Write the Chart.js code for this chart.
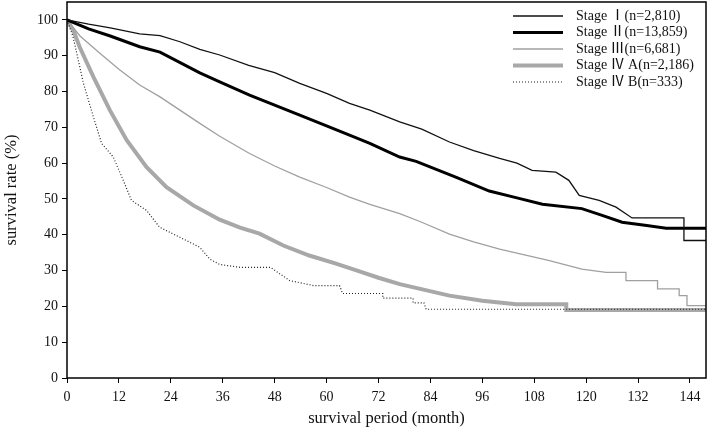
<!DOCTYPE html>
<html>
<head>
<meta charset="utf-8">
<script src="https://cdn.jsdelivr.net/npm/chart.js@4"></script>
<style>
  html, body { margin: 0; padding: 0; background: #fff; }
  #wrap { width: 709px; height: 431px; }
</style>
</head>
<body>
<div id="wrap"><canvas id="survivalChart" width="709" height="431"></canvas></div>
<script>
// survival curves by stage
const stageLabels = ['Stage Ⅰ(n=2,810)', 'Stage Ⅱ(n=13,859)', 'Stage Ⅲ(n=6,681)', 'Stage Ⅳ A(n=2,186)', 'Stage Ⅳ B(n=333)'];
const xTicks = [0, 12, 24, 36, 48, 60, 72, 84, 96, 108, 120, 132, 144];
const yTicks = [0, 10, 20, 30, 40, 50, 60, 70, 80, 90, 100];

const stage1Month = [0, 5, 10, 16.8, 21.5, 26.1, 30.7, 35.3, 42, 48, 53.8, 60, 65.3, 70, 76.9, 82, 88.4, 94, 100, 104, 107.5, 113, 116, 118.4, 123, 126.9, 130.6, 142.6, 142.6, 147.7];
const stage1Rate  = [100, 98.8, 97.8, 96.1, 95.6, 93.9, 91.8, 90.2, 87.3, 85.3, 82.3, 79.5, 76.7, 74.8, 71.5, 69.5, 65.9, 63.5, 61.3, 60.0, 58.0, 57.5, 55.2, 51.0, 49.6, 47.7, 44.7, 44.7, 38.4, 38.4];

const stage2Month = [0, 5, 10, 16.8, 21.5, 30.7, 35.3, 42.2, 48, 53.8, 60, 65.3, 70, 76.9, 80.7, 90, 97.6, 104, 109.9, 119, 123.7, 128.3, 134, 138.5, 147.7];
const stage2Rate  = [100, 97.5, 95.5, 92.5, 91.0, 85.2, 82.7, 79.0, 76.2, 73.4, 70.4, 67.8, 65.5, 61.7, 60.5, 56.0, 52.2, 50.3, 48.5, 47.3, 45.4, 43.5, 42.6, 41.8, 41.8];

const stage3Month = [0, 3, 7.6, 12, 16.8, 21.5, 26.1, 30.7, 35.3, 42.2, 48, 53.8, 60, 65.3, 70, 76.9, 82, 88.4, 94, 100, 106, 111.5, 119, 124.6, 129.2, 129.2, 136.5, 136.5, 141.5, 141.5, 143.3, 143.3, 147.7];
const stage3Rate  = [100, 95.5, 90.7, 86.2, 81.8, 78.5, 74.8, 71.1, 67.5, 62.7, 59.2, 56.1, 53.2, 50.5, 48.5, 45.9, 43.5, 40.2, 38.0, 36.0, 34.3, 32.8, 30.4, 29.5, 29.5, 27.2, 27.2, 24.9, 24.9, 23.0, 23.0, 20.2, 20.2];

const stage4aMonth = [0, 1.5, 2.9, 6.1, 9.9, 13.8, 18.4, 23, 29.2, 35.3, 40, 44.5, 50, 56, 62, 67.6, 72, 76.9, 88.4, 96, 103.8, 115.4, 115.4, 147.7];
const stage4aRate  = [100, 97, 92.5, 84.1, 74.8, 66.4, 58.9, 53.3, 48.2, 44.2, 42.0, 40.3, 37.0, 34.2, 32.0, 29.8, 28.0, 26.2, 23.0, 21.6, 20.6, 20.6, 19.0, 19.0];

const stage4bMonth = [0, 1.4, 3.8, 6.1, 8.0, 10.7, 13, 14.9, 18.4, 21.4, 26.1, 30.7, 33, 35.3, 40, 47, 51.5, 57, 63, 63.7, 73, 73, 80, 80, 82.5, 83, 147.7];
const stage4bRate  = [100, 95.3, 82.3, 72.9, 65.5, 61.7, 55.2, 49.6, 46.8, 42.1, 39.3, 36.5, 33.2, 31.7, 30.9, 30.9, 27.2, 25.8, 25.8, 23.6, 23.6, 22.3, 22.3, 21.0, 21.0, 19.2, 19.2];

const toPoints = (xs, ys) => xs.map((x, i) => ({ x: x, y: ys[i] }));

const serif = '"Liberation Serif", "Noto Sans CJK JP", serif';

const styles = [
    { color: '#111', width: 1.3, dash: [] },
    { color: '#000', width: 3, dash: [] },
    { color: '#a0a0a0', width: 1.3, dash: [] },
    { color: '#a8a8a8', width: 4, dash: [] },
    { color: '#222', width: 1.2, dash: [1, 2] }
];

const series = [
    toPoints(stage1Month, stage1Rate),
    toPoints(stage2Month, stage2Rate),
    toPoints(stage3Month, stage3Rate),
    toPoints(stage4aMonth, stage4aRate),
    toPoints(stage4bMonth, stage4bRate)
];

// frame around plot + legend inside the top right corner
const frameAndLegend = {
    id: 'frameAndLegend',
    afterDraw(chart) {
        const { ctx, chartArea } = chart;
        ctx.save();
        ctx.strokeStyle = '#000';
        ctx.lineWidth = 1.5;
        ctx.strokeRect(chartArea.left, chartArea.top, chartArea.right - chartArea.left, chartArea.bottom - chartArea.top);

        ctx.font = '14px ' + serif;
        ctx.textBaseline = 'middle';
        ctx.fillStyle = '#111';
        stageLabels.forEach((label, i) => {
            const y = 16 + i * 16.5;
            const s = styles[i];
            ctx.beginPath();
            ctx.strokeStyle = s.color;
            ctx.lineWidth = s.width;
            ctx.setLineDash(s.dash);
            ctx.moveTo(513, y);
            ctx.lineTo(563, y);
            ctx.stroke();
            ctx.setLineDash([]);
            ctx.fillText(label, 576, y);
        });
        ctx.restore();
    }
};

const ctx = document.getElementById('survivalChart').getContext('2d');
new Chart(ctx, {
    type: 'line',
    data: {
        datasets: series.map((pts, i) => ({
            label: stageLabels[i],
            data: pts,
            borderColor: styles[i].color,
            borderWidth: styles[i].width,
            borderDash: styles[i].dash,
            pointRadius: 0,
            tension: 0,
            fill: false,
            order: i === 4 ? -1 : i
        }))
    },
    options: {
        responsive: false,
        animation: false,
        layout: { padding: { top: 2, right: 3, left: 0, bottom: 0 } },
        plugins: {
            legend: { display: false },
            tooltip: { enabled: false }
        },
        scales: {
            x: {
                type: 'linear',
                min: 0,
                max: 147.7,
                afterBuildTicks: (scale) => { scale.ticks = xTicks.map(v => ({ value: v })); },
                afterFit: (scale) => { scale.height = 53; scale.paddingLeft = 0; scale.paddingRight = 0; },
                border: { display: false },
                grid: { drawOnChartArea: false, drawTicks: true, tickLength: 5, color: '#000', lineWidth: 1 },
                ticks: { color: '#111', font: { family: serif, size: 14 }, padding: 6, maxRotation: 0, autoSkip: false },
                title: {
                    display: true,
                    text: 'survival period (month)',
                    color: '#111',
                    font: { family: serif, size: 16.5 },
                    padding: { top: 0, bottom: 2 }
                }
            },
            y: {
                min: 0,
                max: 105,
                afterBuildTicks: (scale) => { scale.ticks = yTicks.map(v => ({ value: v })); },
                afterFit: (scale) => { scale.width = 67; scale.paddingTop = 0; scale.paddingBottom = 0; },
                border: { display: false },
                grid: { drawOnChartArea: false, drawTicks: true, tickLength: 5, color: '#000', lineWidth: 1 },
                ticks: { color: '#111', font: { family: serif, size: 14 }, padding: 4 },
                title: {
                    display: true,
                    text: 'survival rate (%)',
                    color: '#111',
                    font: { family: serif, size: 16.5 },
                    padding: { top: 2, bottom: 0 }
                }
            }
        }
    },
    plugins: [frameAndLegend]
});
</script>
</body>
</html>
